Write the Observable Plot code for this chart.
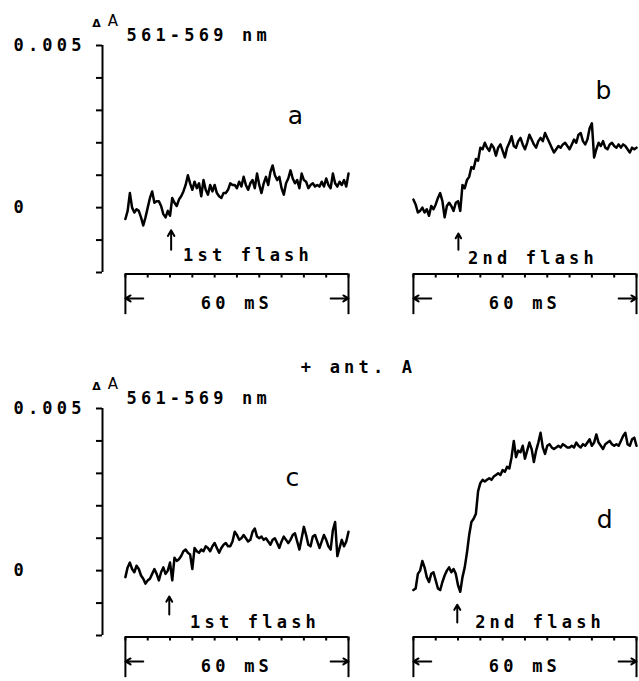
<!DOCTYPE html>
<html><head><meta charset="utf-8">
<script src="https://cdn.jsdelivr.net/npm/d3@7"></script>
<script src="https://cdn.jsdelivr.net/npm/@observablehq/plot@0.6"></script>
<style>
html,body{margin:0;padding:0;background:#fff;}
#chart svg text{letter-spacing:4.2px;}
</style></head><body><div id="chart"></div>
<script>
// ---- data (ΔA values in units of 0.001) ----
const panels = ["a", "b", "c", "d"];
const panelColumn = ["1st", "2nd", "1st", "2nd"];
const panelRow = ["control", "control", "antA", "antA"];
const flashLabels = ["1st flash", "2nd flash", "1st flash", "2nd flash"];
const sampleStepMs = 0.6;

const traceA = [
 -0.35,-0.1,0.45,0,-0.15,-0.05,-0.1,-0.3,-0.55,-0.3,
 0,0.3,0.5,0.15,0.2,0.2,0.05,-0.2,-0.3,-0.1,
 -0.25,0.3,0.15,0.05,0.25,0.35,0.5,0.7,1,0.75,
 0.55,0.8,0.6,0.75,0.35,0.85,0.55,0.4,0.7,0.5,
 0.7,0.45,0.35,0.3,0.45,0.45,0.55,0.75,0.7,0.7,
 0.6,0.8,0.65,0.95,0.7,0.55,0.75,0.85,0.6,1.05,
 0.7,0.45,0.75,0.95,0.7,1.1,1.3,1,0.85,0.95,
 0.6,0.4,0.75,0.9,1.15,0.9,0.75,0.85,0.6,1.05,
 0.85,0.8,0.6,0.7,0.75,0.65,0.7,0.65,0.8,0.65,
 0.9,0.7,0.6,1.05,0.75,0.65,0.8,0.7,0.85,0.65,1.05];
const traceB = [
 0.25,0.1,-0.15,-0.1,0,-0.15,-0.05,-0.25,0.05,-0.05,
 0.1,0.3,0.45,0.2,-0.3,0.05,0.15,0.05,-0.1,0.15,
 0.2,-0.1,0.7,0.6,0.85,0.95,1.25,1.2,1.5,1.45,
 1.85,1.8,2,1.85,1.75,1.95,1.85,1.6,1.85,1.95,
 1.75,1.55,1.85,2,2.2,1.9,1.85,2.05,2.15,1.95,
 1.8,2,2.25,2.1,1.95,1.85,2.05,2.15,2.05,2.3,
 2.15,2,1.85,1.7,1.8,1.9,1.85,1.95,2,1.9,
 1.8,1.95,2.1,2,2.25,2.3,2.05,1.95,2.1,2.45,
 2.6,1.55,1.8,2,1.9,2.05,1.85,1.8,1.95,2,
 1.9,1.85,1.95,1.85,1.95,1.9,1.8,1.7,1.85,1.8,1.85];
const traceC = [
 -0.2,0.1,0.25,0.05,-0.05,0.15,0.05,-0.15,-0.25,-0.4,
 -0.3,-0.25,-0.1,0.05,-0.1,-0.3,-0.05,0.1,-0.1,0,
 0.25,-0.3,0.4,0.3,0.35,0.45,0.6,0.65,0.55,0.5,
 0.05,0.7,0.6,0.55,0.65,0.6,0.75,0.7,0.6,0.75,
 0.85,0.7,0.55,0.7,0.8,0.85,0.75,0.75,0.9,1.2,
 1.1,0.95,1,1.1,1,0.9,0.95,1.2,1.3,1.05,
 1,1.05,0.95,1,0.9,0.8,0.95,1,0.85,0.7,
 0.9,1.05,0.95,0.85,0.95,1.1,1.15,0.9,0.65,1,
 1.35,1.1,0.8,0.75,1.05,1.1,0.9,0.7,0.9,1.1,
 0.95,0.75,0.65,1.25,1.5,0.45,0.7,0.95,0.75,0.9,1.2];
const traceD = [
 -0.6,-0.55,-0.1,0,0.3,0.1,-0.2,-0.35,-0.1,-0.05,
 -0.3,-0.55,-0.6,-0.35,-0.15,0,0.1,-0.05,0.05,-0.1,
 -0.45,-0.65,-0.2,0.1,0.55,1.1,1.5,1.6,1.75,2.45,
 2.7,2.8,2.75,2.8,2.85,2.8,2.9,2.95,3,2.95,
 3.1,3.05,3.2,3.15,3.5,4,3.5,3.7,3.65,3.85,
 3.45,3.7,3.95,3.75,3.35,3.7,3.95,4.25,3.8,3.6,
 3.85,3.9,3.8,3.75,3.8,3.85,3.8,3.9,3.85,3.8,
 3.8,3.85,3.8,3.95,3.85,3.8,3.9,3.85,3.95,4.05,
 3.85,3.95,4.2,3.95,3.85,3.75,3.9,3.95,4,3.9,
 3.85,3.9,3.85,4,4.15,4.25,3.9,3.85,4.05,4.1,3.85];

const flashTimeMs = [12.3, 12.1, 11.8, 11.8];
const flashArrowFrom = [-1.3, -1.3, -1.35, -1.6];
const flashArrowTo = [-0.7, -0.8, -0.8, -1.05];
const flashLabelT = [15.5, 14.7, 17.4, 16.6];
const flashLabelV = [-1.47, -1.56, -1.59, -1.59];
const letterT = [46.3, 51.7, 45.5, 52];
const letterV = [2.82, 3.59, 2.85, 1.56];

const scaleBarMs = 60;
const scaleBarLabel = "60 mS";
const scaleBarTicks = [0, 6, 12, 18, 24, 30, 36, 42, 48, 54, 60];
const yTicks = [-2, -1, 0, 1, 2, 3, 4, 5];
const yTickLabels = {5: "0.005", 0: "0"};
const wavelengthLabel = "561-569 nm";
const treatmentLabel = "+ ant. A";

// ---- layout constants (data units) ----
const xDomain = [-6.16, 60];
const yDomain = [-2, 5];
const barTop = -2.05, barTickEnd = -2.17, barBottom = -3.3, barArrowY = -2.8, barTextY = -2.95;

const traces = [traceA, traceB, traceC, traceD];
const lineData = traces.flatMap((vals, p) => vals.map((v, i) => ({
  panel: panels[p], col: panelColumn[p], row: panelRow[p], t: i * sampleStepMs, v
})));
const meta = panels.map((panel, p) => ({
  panel, col: panelColumn[p], row: panelRow[p],
  flashT: flashTimeMs[p], a1: flashArrowFrom[p], a2: flashArrowTo[p],
  flashLabel: flashLabels[p], flT: flashLabelT[p], flV: flashLabelV[p],
  lT: letterT[p], lV: letterV[p], bar: scaleBarLabel
}));
const leftMeta = meta.filter(m => m.col === "1st");
const barTickRows = meta.flatMap(m => scaleBarTicks.map(t => ({...m, t})));
const barSideRows = meta.flatMap(m => [0, scaleBarMs].map(t => ({...m, t})));
const barArrowRows = meta.flatMap(m => [
  {...m, x1: 4.8, x2: 0},
  {...m, x1: scaleBarMs - 4.8, x2: scaleBarMs}
]);
const fxy = {fx: "col", fy: "row"};
const fs = 17;

const chart = Plot.plot({
  width: 639, height: 681,
  marginTop: 44, marginBottom: 45, marginLeft: 101, marginRight: 2,
  fx: {domain: ["1st", "2nd"], paddingInner: 0.1453, paddingOuter: 0, axis: null},
  fy: {domain: ["control", "antA"], paddingInner: 0.3736, paddingOuter: 0, axis: null},
  x: {domain: xDomain, axis: null},
  y: {domain: yDomain},
  style: {fontFamily: "'DejaVu Sans Mono', monospace", fontSize: "17px", fontWeight: "bold", background: "#fff", color: "#000", overflow: "visible"},
  marks: [
    Plot.ruleX(leftMeta, {x: xDomain[0], y1: yDomain[0], y2: yDomain[1], ...fxy, strokeWidth: 2}),
    Plot.axisY({ticks: yTicks, tickSize: 6, tickPadding: 83, textAnchor: "start",
      tickFormat: d => yTickLabels[d] ?? "", strokeWidth: 2, fontSize: fs}),
    Plot.text(leftMeta, {x: -7.2, y: 5.67, text: () => "Δ", ...fxy, fontSize: 11, fontFamily: "DejaVu Sans"}),
    Plot.text(leftMeta, {x: -2.8, y: 5.74, text: () => "A", ...fxy, fontSize: 15, fontFamily: "DejaVu Sans", fontWeight: "normal"}),
    Plot.text(leftMeta, {x: 0.3, y: 5.3, text: () => wavelengthLabel, ...fxy, textAnchor: "start", fontSize: fs}),
    Plot.line(lineData, {x: "t", y: "v", z: "panel", ...fxy, stroke: "#000", strokeWidth: 2.5, strokeLinejoin: "round"}),
    Plot.text(meta, {x: "lT", y: "lV", text: "panel", ...fxy, fontSize: 25, fontFamily: "DejaVu Sans", fontWeight: "normal"}),
    Plot.arrow(meta, {x1: "flashT", x2: "flashT", y1: "a1", y2: "a2", ...fxy, strokeWidth: 2, headLength: 6, stroke: "#000"}),
    Plot.text(meta, {x: "flT", y: "flV", text: "flashLabel", ...fxy, textAnchor: "start", fontSize: fs}),
    Plot.ruleY(meta, {y: barTop, x1: 0, x2: scaleBarMs, ...fxy, strokeWidth: 2}),
    Plot.ruleX(barTickRows, {x: "t", y1: barTop, y2: barTickEnd, ...fxy, strokeWidth: 2}),
    Plot.ruleX(barSideRows, {x: "t", y1: barTop, y2: barBottom, ...fxy, strokeWidth: 2}),
    Plot.arrow(barArrowRows, {x1: "x1", x2: "x2", y1: barArrowY, y2: barArrowY, ...fxy, strokeWidth: 2, headLength: 7, stroke: "#000"}),
    Plot.text(meta, {x: scaleBarMs / 2, y: barTextY, text: "bar", ...fxy, fontSize: fs}),
    Plot.text(meta.filter(m => m.panel === "a"), {x: 62.7, y: -4.94, text: () => treatmentLabel, ...fxy, fontSize: fs})
  ]
});
document.getElementById("chart").appendChild(chart);
</script></body></html>
